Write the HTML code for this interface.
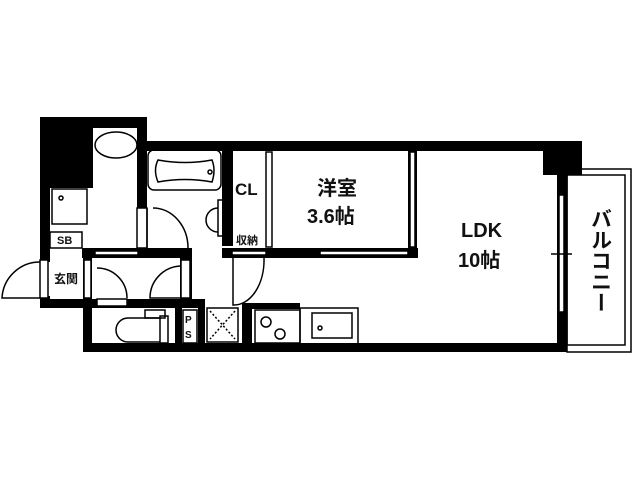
<!DOCTYPE html>
<html><head><meta charset="utf-8"><style>
html,body{margin:0;padding:0;background:#fff}
svg{display:block}
text{font-family:"Liberation Sans","Noto Sans CJK JP",sans-serif;font-weight:bold;fill:#111}
</style></head><body>
<svg width="640" height="480" viewBox="0 0 640 480" xmlns="http://www.w3.org/2000/svg">
<rect width="640" height="480" fill="#fff"/>
<g fill="#000">
<rect x="40" y="117" width="53" height="71"/>
<rect x="40" y="117" width="10" height="141"/>
<rect x="40" y="117" width="107" height="11"/>
<rect x="137" y="117" width="10" height="140"/>
<rect x="137" y="141" width="445" height="10"/>
<rect x="543" y="141" width="39" height="34"/>
<rect x="557" y="141" width="10" height="211"/>
<rect x="222" y="150" width="11" height="96"/>
<rect x="40" y="248" width="10" height="10"/>
<rect x="82" y="248" width="110" height="10"/>
<rect x="222" y="248" width="196" height="10"/>
<rect x="408" y="150" width="9" height="108"/>
<rect x="40" y="299" width="165" height="9"/>
<rect x="40" y="258" width="10" height="4"/>
<rect x="40" y="296" width="10" height="4"/>
<rect x="83" y="299" width="9" height="53"/>
<rect x="83" y="343" width="484" height="9"/>
<rect x="175" y="299" width="7" height="50"/>
<rect x="198" y="299" width="7" height="50"/>
<rect x="242" y="303" width="10" height="45"/>
<rect x="242" y="303" width="58" height="6"/>
<rect x="83" y="258" width="9" height="42"/>
<rect x="180" y="258" width="12" height="42"/>
</g>
<g fill="#fff" stroke="#000" stroke-width="1.5">
<rect x="95" y="251" width="43" height="4"/>
<rect x="232" y="251" width="34" height="4"/>
<rect x="320" y="251" width="88" height="4"/>
<rect x="410" y="152" width="5" height="95"/>
<rect x="559" y="195" width="5" height="117"/>
<rect x="266" y="152" width="6" height="95"/>
<rect x="137" y="208" width="10" height="40"/>
<rect x="40" y="260" width="8" height="38"/>
<rect x="84" y="260" width="7" height="38"/>
<rect x="181" y="260" width="9" height="38"/>
<rect x="97" y="299" width="30" height="7"/>
<rect x="183" y="310" width="14" height="33"/>
</g>
<g fill="none" stroke="#000" stroke-width="1.5">
<ellipse cx="116" cy="145" rx="21" ry="13"/>
<rect x="52" y="189" width="35" height="35"/>
<circle cx="61" cy="198" r="2"/>
<rect x="148" y="150" width="73" height="40" rx="6"/>
<path d="M158 160 Q185 165 212 160 Q216 170 212 182 Q185 177 158 182 Q153 170 158 160Z"/>
<circle cx="210" cy="172" r="2"/>
<rect x="218" y="200" width="6" height="36"/>
<path d="M218 208 A12 12 0 0 0 218 232"/>
<rect x="50" y="232" width="32" height="16"/>
<path d="M147 248 L147 208"/><path d="M153 208 A35 40 0 0 1 188 248"/>
<path d="M40 262 A38 38 0 0 0 2 298 L40 298"/>
<path d="M97 268 A30 30 0 0 1 127 298"/>
<path d="M180 266 A32 32 0 0 0 150 298 L180 298"/>
<path d="M233 258 L233 305 A30 45 0 0 0 264 258"/>
<path d="M160 318 L128 318 A12 12 0 0 0 128 342 L160 342"/>
<rect x="160" y="316" width="8" height="27"/>
<rect x="145" y="310" width="20" height="8"/>
<rect x="207" y="308" width="31" height="34"/>
<path d="M210 311 L235 339 M235 311 L210 339" stroke-dasharray="2 2"/>
<rect x="255" y="310" width="45" height="33"/>
<circle cx="266" cy="322" r="5"/><circle cx="280" cy="334" r="5"/>
<rect x="300" y="308" width="58" height="36"/>
<rect x="312" y="313" width="40" height="25"/>
<circle cx="320" cy="328" r="2"/>
<rect x="567" y="169" width="64" height="183"/>
<rect x="567" y="175" width="58" height="170"/>
<line x1="551" y1="254" x2="572" y2="254"/>
</g>
<text x="235" y="195" font-size="17">CL</text>
<text x="236" y="244" font-size="11">収納</text>
<text x="317" y="195" font-size="20">洋室</text>
<text x="307" y="223" font-size="20">3.6帖</text>
<text x="461" y="237" font-size="20">LDK</text>
<text x="458" y="267" font-size="20">10帖</text>
<text x="57" y="244" font-size="11">SB</text>
<text x="54" y="283" font-size="12">玄関</text>
<text x="185" y="323" font-size="10">P</text>
<text x="185" y="338" font-size="10">S</text>
<text font-size="21" x="600" y="208" style="writing-mode:vertical-rl">バルコニー</text>
</svg>
</body></html>
